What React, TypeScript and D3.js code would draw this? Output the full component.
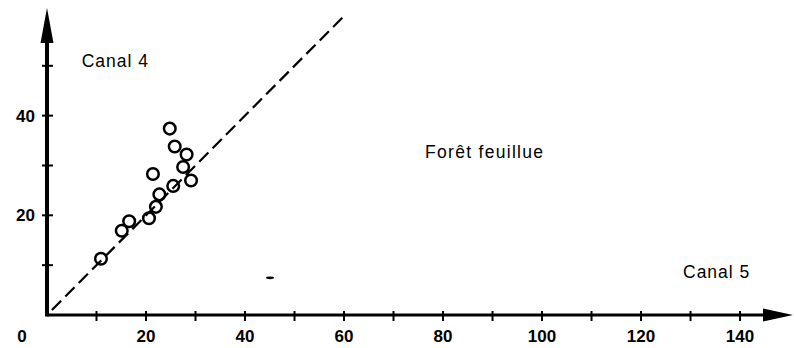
import React from "react";
import * as d3 from "d3";

// Channel 5 (x) vs channel 4 (y) radiance, broadleaf forest samples
const canal5: number[] = [10.9, 15.1, 16.6, 20.6, 22.0, 22.7, 21.4, 25.5, 24.8, 25.8, 28.2, 27.5, 29.1];
const canal4: number[] = [11.3, 16.9, 18.8, 19.4, 21.7, 24.2, 28.3, 25.9, 37.4, 33.8, 32.2, 29.7, 27.0];

const xTicks: number[] = [10, 20, 30, 40, 50, 60, 70, 80, 90, 100, 110, 120, 130, 140];
const xTickLabels: number[] = [20, 40, 60, 80, 100, 120, 140];
const yTicks: number[] = [10, 20, 30, 40, 50];
const yTickLabels: number[] = [20, 40];

// 1:1 reference line
const diagonal: [number, number][] = [[1, 1], [60, 60]];

// small ink speck in the plot area
const specks: [number, number][] = [[45.05, 7.45]];

const W = 794;
const H = 348;

export default function App() {
  const x = d3.scaleLinear().domain([0, 150.7]).range([47, 793]);
  const y = d3.scaleLinear().domain([0, 61.6]).range([315, 8]);

  const x0 = x(0);
  const y0 = y(0);
  const line = d3.line<[number, number]>().x((d) => x(d[0])).y((d) => y(d[1]));

  const tickFont = "'Liberation Sans', Arial, sans-serif";
  const textFont = "'Liberation Sans', Arial, sans-serif";

  const xEnd = x.domain()[1];
  const yEnd = y.domain()[1];
  const arrowLen = 30;
  const arrowHalf = 6.5;

  return (
    <svg
      width={W}
      height={H}
      viewBox={`0 0 ${W} ${H}`}
      style={{ position: "absolute", left: 0, top: 0, background: "#fff" }}
    >
      {/* diagonal */}
      <path
        d={line(diagonal) || ""}
        fill="none"
        stroke="#000"
        strokeWidth={2.2}
        strokeDasharray="13,6"
      />

      {/* axes */}
      <line x1={x0} y1={y0} x2={x(xEnd) - arrowLen + 2} y2={y0} stroke="#000" strokeWidth={3} />
      <line x1={x0} y1={y0 + 1.5} x2={x0} y2={y(yEnd) + arrowLen} stroke="#000" strokeWidth={4} />
      <path
        d={`M${x(xEnd)},${y0} L${x(xEnd) - arrowLen},${y0 - arrowHalf} L${x(xEnd) - arrowLen},${y0 + arrowHalf} Z`}
        fill="#000"
      />
      <path
        d={`M${x0},${y(yEnd)} L${x0 - arrowHalf},${y(yEnd) + arrowLen + 5} L${x0 + arrowHalf},${y(yEnd) + arrowLen + 5} Z`}
        fill="#000"
      />

      {/* ticks */}
      {xTicks.map((t) => (
        <line key={`xt${t}`} x1={x(t)} x2={x(t)} y1={y0 - 4} y2={y0 + 6} stroke="#000" strokeWidth={2} />
      ))}
      {yTicks.map((t) => (
        <line key={`yt${t}`} x1={x0 - 5} x2={x0 + 6} y1={y(t)} y2={y(t)} stroke="#000" strokeWidth={2} />
      ))}

      {/* tick labels */}
      {xTickLabels.map((t) => (
        <text
          key={`xl${t}`}
          x={x(t)}
          y={y0 + 26.7}
          textAnchor="middle"
          fontFamily={tickFont}
          fontWeight="bold"
          fontSize={17}
        >
          {t}
        </text>
      ))}
      <text
        x={x0 - 25}
        y={y0 + 26.7}
        textAnchor="middle"
        fontFamily={tickFont}
        fontWeight="bold"
        fontSize={17}
      >
        0
      </text>
      {yTickLabels.map((t) => (
        <text
          key={`yl${t}`}
          x={x0 - 12}
          y={y(t)}
          dy="0.36em"
          textAnchor="end"
          fontFamily={tickFont}
          fontWeight="bold"
          fontSize={17}
        >
          {t}
        </text>
      ))}

      {/* samples */}
      {canal5.map((v, i) => (
        <circle
          key={`p${i}`}
          cx={x(v)}
          cy={y(canal4[i])}
          r={5.8}
          fill="none"
          stroke="#000"
          strokeWidth={2.5}
        />
      ))}

      {specks.map((s, i) => (
        <ellipse key={`s${i}`} cx={x(s[0])} cy={y(s[1])} rx={4} ry={1.4} fill="#000" />
      ))}

      {/* annotations */}
      <text x={81.7} y={66.7} fontFamily={textFont} fontSize={17.5} letterSpacing={1}>
        Canal 4
      </text>
      <text x={425} y={157.7} fontFamily={textFont} fontSize={17.5} letterSpacing={1.3}>
        Forêt feuillue
      </text>
      <text x={683} y={278.3} fontFamily={textFont} fontSize={17.5} letterSpacing={1}>
        Canal 5
      </text>
    </svg>
  );
}
